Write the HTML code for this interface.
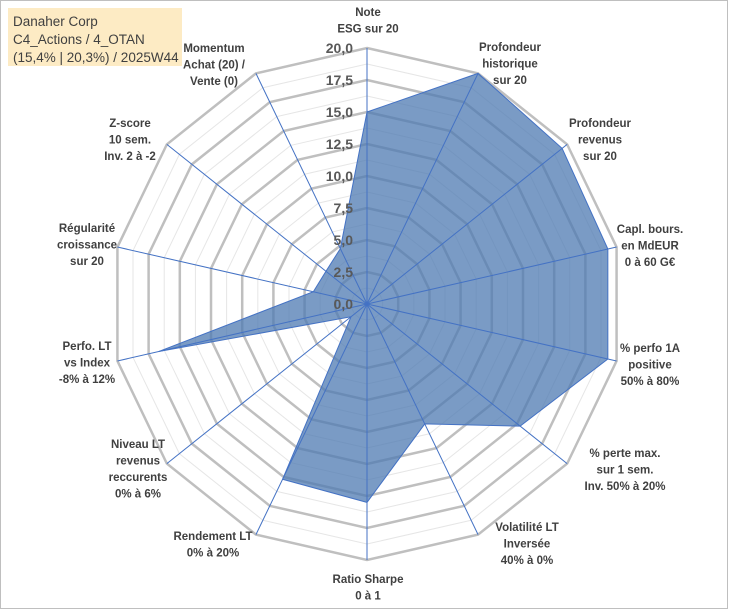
<!DOCTYPE html>
<html><head><meta charset="utf-8"><style>
body{margin:0;background:#fff;}
svg{display:block;font-family:"Liberation Sans",Arial,sans-serif;}
.lbl{font-size:11.5px;font-weight:bold;fill:#404040;text-anchor:middle;}
.tick{font-size:14px;font-weight:bold;fill:#595959;text-anchor:end;}
</style></head><body>
<svg id="chart" width="729" height="610">
<rect x="0.5" y="0.5" width="727" height="608" fill="#fff" stroke="#bfbfbf"/>
<rect x="8" y="8" width="174" height="58" fill="#fdebc4"/>
<text x="13" y="26" font-size="13.5" fill="#404040">Danaher Corp</text>
<text x="13" y="44" font-size="13.5" fill="#404040">C4_Actions / 4_OTAN</text>
<text x="13" y="62" font-size="13.5" fill="#404040">(15,4% | 20,3%) / 2025W44</text>
<g id="grid"></g><g id="series"></g><g id="axes"></g><g id="ticks"></g><g id="labels"></g>
</svg>
<script>
const categories=[["Note","ESG sur 20"],["Profondeur","historique","sur 20"],["Profondeur","revenus","sur 20"],["Capl. bours.","en MdEUR","0 à 60 G€"],["% perfo 1A","positive","50% à 80%"],["% perte max.","sur 1 sem.","Inv. 50% à 20%"],["Volatilité LT","Inversée","40% à 0%"],["Ratio Sharpe","0 à 1"],["Rendement LT","0% à 20%"],["Niveau LT","revenus","reccurents","0% à 6%"],["Perfo. LT","vs Index","-8% à 12%"],["Régularité","croissance","sur 20"],["Z-score","10 sem.","Inv. 2 à -2"],["Momentum","Achat (20) /","Vente (0)"]];
const values=[15,20,19.5,19.3,19.3,15.3,10.4,15.5,15.2,1.6,16.7,4.3,4.1,4.8];
const tickLabels=["0,0","2,5","5,0","7,5","10,0","12,5","15,0","17,5","20,0"];
const maxVal=20;
const labelPos=[[368,16],[510,51],[600,127],[650,233],[650,352],[625,457],[527,531],[368,583],[213,540],[138,448],[87,350],[87,232],[130,127],[214,52]];
const cx=367,cy=304,R=256,N=categories.length;
const NS="http://www.w3.org/2000/svg";
function pt(i,v){const a=i*2*Math.PI/N;const r=v/maxVal*R;return [cx+r*Math.sin(a),cy-r*Math.cos(a)];}
function mk(tag,attrs,parent){const e=document.createElementNS(NS,tag);for(const k in attrs)e.setAttribute(k,attrs[k]);parent.appendChild(e);return e;}
const grid=document.getElementById('grid');
for(let s=1;s<=16;s++){const v=s*maxVal/16;const pts=[];for(let i=0;i<N;i++)pts.push(pt(i,v).join(','));
const major=s%2===0;
const p=mk('polygon',{points:pts.join(' '),fill:'none',stroke:major?'#bfbfbf':'#e6e6e6','stroke-width':major?2.5:1},grid);

}
const sg=document.getElementById('series');
const sp=mk('polygon',{points:values.map((v,i)=>pt(i,v).join(',')).join(' '),fill:'#4e7ab1','fill-opacity':0.75,stroke:'#4472c4','stroke-width':1},sg);


const ax=document.getElementById('axes');
for(let i=0;i<N;i++){const [x,y]=pt(i,maxVal);const l=mk('line',{x1:cx,y1:cy,x2:x,y2:y,stroke:'#4472c4','stroke-width':1},ax);

}
const tg=document.getElementById('ticks');
tickLabels.forEach((t,k)=>{const y=cy-(k*2.5)/maxVal*R;const e=mk('text',{x:353,y:y+5,class:'tick'},tg);e.textContent=t;

});
const lg=document.getElementById('labels');
categories.forEach((c,i)=>{const [x,y]=labelPos[i];const e=mk('text',{x:x,y:y,class:'lbl'},lg);


c.forEach((line,j)=>{const ts=mk('tspan',{x:x,dy:j===0?0:16.5},e);ts.textContent=line;});});
</script>
</body></html>
